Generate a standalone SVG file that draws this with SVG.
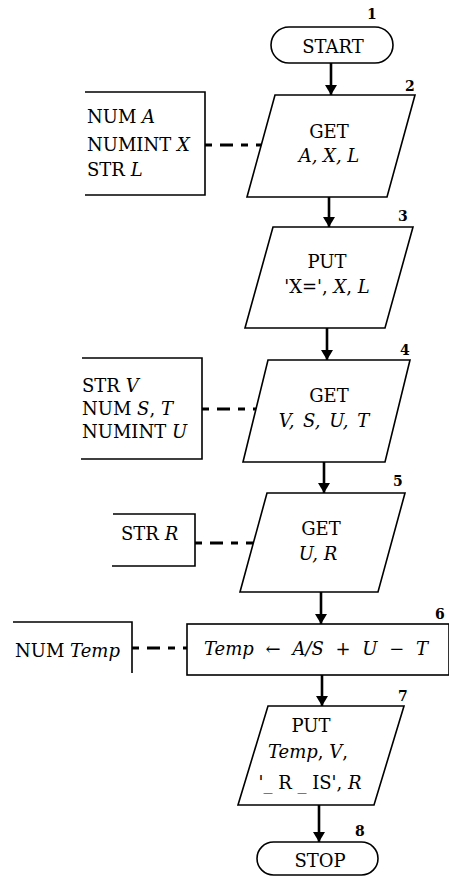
<svg xmlns="http://www.w3.org/2000/svg" width="449" height="877" viewBox="0 0 449 877">
<defs>
<marker id="ah" viewBox="0 0 10 12" refX="10" refY="6" markerWidth="10" markerHeight="12" markerUnits="userSpaceOnUse" orient="auto">
<path d="M0,0 L10,6 L0,12 Z" fill="#000"/>
</marker>
</defs>
<style>
.shape{fill:#fff;stroke:#000;stroke-width:1.6}
.brk{fill:none;stroke:#000;stroke-width:1.6}
.t{font-family:"DejaVu Serif","Liberation Serif",serif;font-size:18px;fill:#000}
.c{text-anchor:middle}
.i{font-style:italic}
.n{font-family:"DejaVu Serif","Liberation Serif",serif;font-size:14px;font-weight:bold;fill:#000}
.flow{stroke:#000;stroke-width:2.6;fill:none}
.dash{stroke:#000;stroke-width:3;fill:none;stroke-dasharray:7 8 13 8}
</style>
<g id="connectors">
<line class="flow" x1="331" y1="63" x2="331" y2="95" marker-end="url(#ah)"/>
<line class="flow" x1="329" y1="197" x2="329" y2="227" marker-end="url(#ah)"/>
<line class="flow" x1="327" y1="328" x2="327" y2="360" marker-end="url(#ah)"/>
<line class="flow" x1="324" y1="462" x2="324" y2="493" marker-end="url(#ah)"/>
<line class="flow" x1="321" y1="592" x2="321" y2="624" marker-end="url(#ah)"/>
<line class="flow" x1="322" y1="675" x2="322" y2="706" marker-end="url(#ah)"/>
<line class="flow" x1="319" y1="805" x2="319" y2="842" marker-end="url(#ah)"/>
<line class="dash" x1="205" y1="145" x2="262" y2="145"/>
<line class="dash" x1="202" y1="409" x2="258" y2="409"/>
<line class="dash" x1="195" y1="543" x2="254" y2="543"/>
<line class="dash" x1="132" y1="648" x2="187" y2="648"/>
</g>
<g id="n1">
<rect class="shape" x="271" y="27" width="122" height="36" rx="18" ry="18"/>
<text class="t c" x="333" y="53">START</text>
<text class="n" x="367" y="19">1</text>
</g>
<g id="n2">
<polygon class="shape" points="275,95 415,95 387,197 247,197"/>
<text class="t c" x="329" y="138">GET</text>
<text class="t c i" x="329" y="162">A, X, L</text>
<text class="n" x="405" y="91">2</text>
</g>
<g id="a2">
<polyline class="brk" points="85,92 205,92 205,195 85,195"/>
<text class="t" x="87" y="123">NUM <tspan class="i">A</tspan></text>
<text class="t" x="87" y="151">NUMINT <tspan class="i">X</tspan></text>
<text class="t" x="87" y="176">STR <tspan class="i">L</tspan></text>
</g>
<g id="n3">
<polygon class="shape" points="273,227 413,227 385,328 245,328"/>
<text class="t c" x="327" y="268">PUT</text>
<text class="t c" x="327" y="293">'X=', <tspan class="i">X</tspan>, <tspan class="i">L</tspan></text>
<text class="n" x="398" y="221">3</text>
</g>
<g id="n4">
<polygon class="shape" points="268,360 410,360 385,462 243,462"/>
<text class="t c" x="329" y="402">GET</text>
<text class="t c i" x="324" y="427" word-spacing="3">V, S, U, T</text>
<text class="n" x="400" y="355">4</text>
</g>
<g id="a4">
<polyline class="brk" points="82,358 202,358 202,459 81,459"/>
<text class="t" x="82" y="392">STR <tspan class="i">V</tspan></text>
<text class="t" x="82" y="415">NUM <tspan class="i">S</tspan>, <tspan class="i">T</tspan></text>
<text class="t" x="82" y="438">NUMINT <tspan class="i">U</tspan></text>
</g>
<g id="n5">
<polygon class="shape" points="267,493 405,493 378,592 240,592"/>
<text class="t c" x="321" y="535">GET</text>
<text class="t c i" x="318" y="560">U, R</text>
<text class="n" x="393" y="486">5</text>
</g>
<g id="a5">
<polyline class="brk" points="113,514 195,514 195,566 112,566"/>
<text class="t" x="121" y="540">STR <tspan class="i">R</tspan></text>
</g>
<g id="n6">
<rect class="shape" x="187" y="624" width="262" height="51"/>
<text class="t" x="204" y="655" word-spacing="6"><tspan class="i">Temp</tspan> ← <tspan class="i">A/S</tspan> + <tspan class="i">U</tspan> − <tspan class="i">T</tspan></text>
<text class="n" x="435" y="619">6</text>
</g>
<g id="a6">
<polyline class="brk" points="13,622 132,622 132,673"/>
<text class="t" x="15" y="657">NUM <tspan class="i">Temp</tspan></text>
</g>
<g id="n7">
<polygon class="shape" points="268,706 404,706 374,805 238,805"/>
<text class="t c" x="311" y="732">PUT</text>
<text class="t c" x="308" y="758"><tspan class="i">Temp</tspan>, <tspan class="i">V</tspan>,</text>
<text class="t c" x="310" y="789">'_ R _ IS', <tspan class="i">R</tspan></text>
<text class="n" x="398" y="701">7</text>
</g>
<g id="n8">
<rect class="shape" x="257" y="842" width="121" height="33" rx="16.5" ry="16.5"/>
<text class="t c" x="320" y="867">STOP</text>
<text class="n" x="355" y="836">8</text>
</g>
</svg>
